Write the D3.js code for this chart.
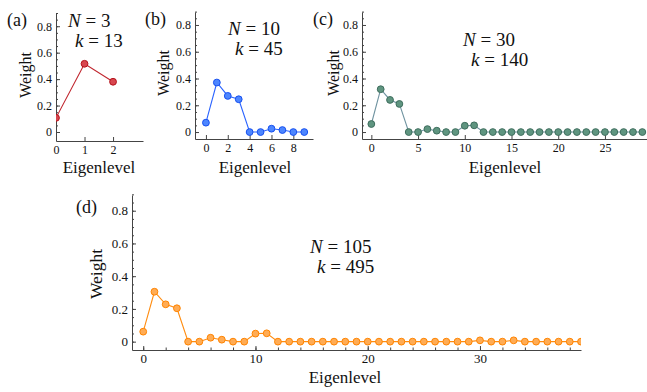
<!DOCTYPE html>
<html>
<head>
<meta charset="utf-8">
<script src="https://cdn.jsdelivr.net/npm/d3@7"></script>
<style>
  body { margin: 0; background: #fff; }
</style>
</head>
<body>
<svg id="chart" width="647" height="392"></svg>
<script>
// Weights per eigenlevel
const weightsA = [0.107, 0.516, 0.38];
const weightsB = [0.07, 0.37, 0.27, 0.245, 0.0, 0.0, 0.025, 0.015, 0.0, 0.0];
const weightsC = [0.06, 0.32, 0.24, 0.21, 0.0, 0.0, 0.022, 0.01, 0.0, 0.0,
                  0.047, 0.05, 0, 0, 0, 0, 0, 0, 0, 0,
                  0, 0, 0, 0, 0, 0, 0, 0, 0, 0];
const weightsD = [0.061, 0.305, 0.228, 0.204, 0.0, 0.0, 0.024, 0.012, 0.0, 0.0,
                  0.049, 0.051, 0, 0, 0, 0, 0, 0, 0, 0,
                  0, 0, 0, 0, 0, 0, 0, 0, 0, 0,
                  0.008, 0, 0, 0.008, 0, 0, 0, 0, 0, 0];

const yTicks = [0, 0.2, 0.4, 0.6, 0.8];
const yTickLabels = ['0', '0.2', '0.4', '0.6', '0.8'];
const yMinorTicks = d3.range(0, 0.901, 0.05);

const xTicksA = [0, 1, 2];
const xTicksB = [0, 2, 4, 6, 8];
const xTicksC = [0, 5, 10, 15, 20, 25];
const xTicksD = [0, 10, 20, 30];
const xMinorD = d3.range(0, 40, 2);

const panelLabels = ['(a)', '(b)', '(c)', '(d)'];
const nValues = ['3', '10', '30', '105'];
const kValues = ['13', '45', '140', '495'];

const FONT = '"Liberation Serif"';

const svg = d3.select('#chart');

const panels = [
    { id: 'a', data: weightsA, xTicks: xTicksA, xMinor: [],
      box: { l: 56, r: 143, t: 13, b: 141 }, xDom: [0, 3.05], yDom: [-0.068, 0.9],
      stroke: '#b5121b', fill: '#d8474f', line: '#c0262e',
      tag: { x: 7, y: 26 }, nk: { nx: 68, kx: 75, y1: 27, y2: 47 },
      wlab: { x: 25, y: 75 }, elab: { x: 99, y: 173 }, fs: 12, wfs: 16 },
    { id: 'b', data: weightsB, xTicks: xTicksB, xMinor: [],
      box: { l: 195, r: 313, t: 12, b: 139 }, xDom: [-1, 9.8], yDom: [-0.052, 0.897],
      stroke: '#1750f0', fill: '#4d86ff', line: '#2a63ff',
      tag: { x: 145, y: 25 }, nk: { nx: 228, kx: 235, y1: 35, y2: 55 },
      wlab: { x: 163, y: 73 }, elab: { x: 255, y: 173 }, fs: 12, wfs: 16 },
    { id: 'c', data: weightsC, xTicks: xTicksC, xMinor: [],
      box: { l: 362, r: 647, t: 12, b: 139 }, xDom: [-1, 29.5], yDom: [-0.052, 0.897],
      stroke: '#3f6e5e', fill: '#5f9580', line: '#6f93a0',
      tag: { x: 313, y: 25 }, nk: { nx: 463, kx: 471, y1: 46, y2: 66 },
      wlab: { x: 333, y: 73 }, elab: { x: 505, y: 173 }, fs: 12, wfs: 16 },
    { id: 'd', data: weightsD, xTicks: xTicksD, xMinor: xMinorD,
      box: { l: 132, r: 581, t: 195, b: 350 }, xDom: [-1, 39], yDom: [-0.051, 0.896],
      stroke: '#ff8400', fill: '#ffac55', line: '#ff8c10',
      tag: { x: 76, y: 213 }, nk: { nx: 310, kx: 317, y1: 253, y2: 273 },
      wlab: { x: 96, y: 274 }, elab: { x: 345, y: 383 }, fs: 13, wfs: 17.5 }
];

panels.forEach((p, i) => {
    const g = svg.append('g');
    const x = d3.scaleLinear().domain(p.xDom).range([p.box.l, p.box.r]);
    const y = d3.scaleLinear().domain(p.yDom).range([p.box.b, p.box.t]);

    const clipId = 'clip-' + p.id;
    svg.append('clipPath').attr('id', clipId)
        .append('rect')
        .attr('x', p.box.l).attr('y', p.box.t - 5)
        .attr('width', p.box.r - p.box.l).attr('height', p.box.b - p.box.t + 5);

    // Minor y ticks
    g.append('g')
        .attr('transform', `translate(${p.box.l},0)`)
        .call(d3.axisLeft(y).tickValues(yMinorTicks).tickSize(-2).tickSizeOuter(0).tickFormat(''))
        .call(a => a.select('.domain').remove())
        .call(a => a.selectAll('line').attr('stroke', '#444'));

    // Major y ticks + axis line
    g.append('g')
        .attr('transform', `translate(${p.box.l},0)`)
        .call(d3.axisLeft(y).tickValues(yTicks).tickSize(-4).tickSizeOuter(0).tickPadding(4)
            .tickFormat((d, j) => yTickLabels[j]))
        .call(a => a.select('.domain').attr('stroke', '#444'))
        .call(a => a.selectAll('line').attr('stroke', '#444'))
        .call(a => a.selectAll('text')
            .style('font-family', FONT)
            .attr('font-size', p.fs).attr('fill', '#111'));

    if (p.xMinor.length) {
        g.append('g')
            .attr('transform', `translate(0,${p.box.b})`)
            .call(d3.axisBottom(x).tickValues(p.xMinor).tickSize(-2.5).tickSizeOuter(0).tickFormat(''))
            .call(a => a.select('.domain').remove())
            .call(a => a.selectAll('line').attr('stroke', '#444'));
    }

    g.append('g')
        .attr('transform', `translate(0,${p.box.b})`)
        .call(d3.axisBottom(x).tickValues(p.xTicks).tickSize(-4).tickSizeOuter(0).tickPadding(4)
            .tickFormat(d3.format('d')))
        .call(a => a.select('.domain').attr('stroke', '#444'))
        .call(a => a.selectAll('line').attr('stroke', '#444'))
        .call(a => a.selectAll('text')
            .style('font-family', FONT)
            .attr('font-size', p.fs).attr('fill', '#111'));

    // Data line and points
    const plot = g.append('g').attr('clip-path', `url(#${clipId})`);
    const line = d3.line()
        .x((d, j) => x(j))
        .y(d => y(d));

    plot.append('path')
        .datum(p.data)
        .attr('fill', 'none')
        .attr('stroke', p.line)
        .attr('stroke-width', 1.1)
        .attr('d', line);

    plot.selectAll('circle')
        .data(p.data)
        .enter()
        .append('circle')
        .attr('cx', (d, j) => x(j))
        .attr('cy', d => y(d))
        .attr('r', 3.4)
        .attr('fill', p.fill)
        .attr('stroke', p.stroke)
        .attr('stroke-width', 1);

    // Panel tag
    g.append('text')
        .attr('x', p.tag.x).attr('y', p.tag.y)
        .style('font-family', FONT)
        .attr('font-size', 18).attr('fill', '#111')
        .text(panelLabels[i]);

    // N and k annotation
    const t1 = g.append('text').attr('x', p.nk.nx).attr('y', p.nk.y1)
        .style('font-family', FONT)
        .attr('font-size', 19).attr('fill', '#111');
    t1.append('tspan').style('font-style', 'italic').text('N');
    t1.append('tspan').text(' = ' + nValues[i]);
    const t2 = g.append('text').attr('x', p.nk.kx).attr('y', p.nk.y2)
        .style('font-family', FONT)
        .attr('font-size', 19).attr('fill', '#111');
    t2.append('tspan').style('font-style', 'italic').text('k');
    t2.append('tspan').text(' = ' + kValues[i]);

    // Axis labels
    g.append('text')
        .attr('transform', `translate(${p.wlab.x},${p.wlab.y}) rotate(-90)`)
        .attr('text-anchor', 'middle')
        .attr('dominant-baseline', 'central')
        .style('font-family', FONT)
        .attr('font-size', p.wfs).attr('fill', '#111')
        .text('Weight');
    g.append('text')
        .attr('x', p.elab.x).attr('y', p.elab.y)
        .attr('text-anchor', 'middle')
        .style('font-family', FONT)
        .attr('font-size', 17).attr('fill', '#111')
        .text('Eigenlevel');
});
</script>
</body>
</html>
